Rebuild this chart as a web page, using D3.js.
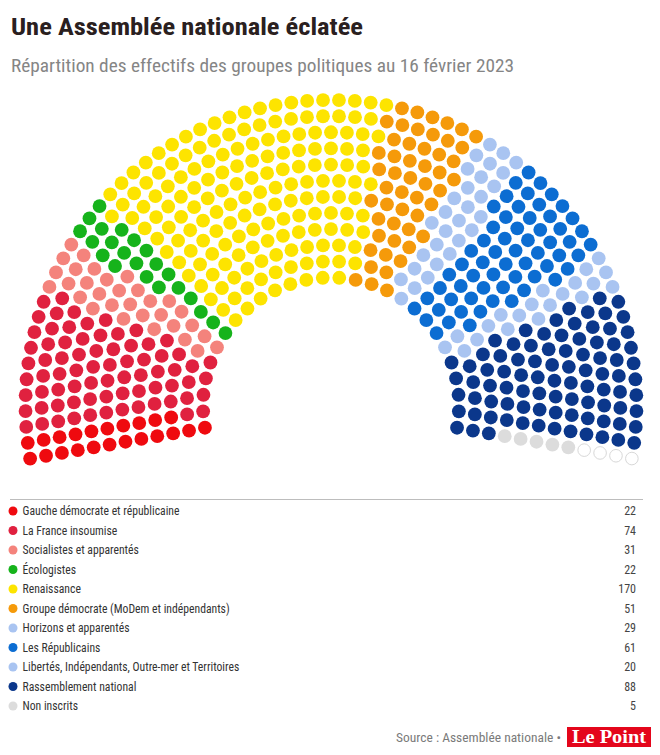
<!DOCTYPE html>
<html>
<head>
<meta charset="utf-8">
<script src="https://cdn.jsdelivr.net/npm/d3@7"></script>
<style>
  body { margin: 0; background: #fff; }
  text { font-family: "Roboto Condensed", "Liberation Sans Narrow", Roboto, sans-serif; }
</style>
</head>
<body>
<svg id="chart" width="660" height="755"></svg>
<script>
// data
const groupNames = [
  "Gauche démocrate et républicaine",
  "La France insoumise",
  "Socialistes et apparentés",
  "Écologistes",
  "Renaissance",
  "Groupe démocrate (MoDem et indépendants)",
  "Horizons et apparentés",
  "Les Républicains",
  "Libertés, Indépendants, Outre-mer et Territoires",
  "Rassemblement national",
  "Non inscrits"
];
const seatCounts = [22, 74, 31, 22, 170, 51, 29, 61, 20, 88, 5];
const groupColors = ["#ef0a0f", "#e0213f", "#f4837c", "#16b31b", "#fde400", "#f59a0a",
                     "#a9c4f1", "#0c6dd2", "#a9c4f1", "#0b378b", "#dcdcdc"];
const vacantSeats = 4;
const totalSeats = 577;

const svg = d3.select("#chart");

// header
svg.append("text").attr("x", 11).attr("y", 35)
  .attr("font-size", 23).attr("font-weight", 700).attr("fill", "#2a2020")
  .attr("textLength", 352).attr("lengthAdjust", "spacingAndGlyphs")
  .text("Une Assemblée nationale éclatée");
svg.append("text").attr("x", 11).attr("y", 72)
  .attr("font-size", 18).attr("fill", "#858585")
  .attr("textLength", 503).attr("lengthAdjust", "spacingAndGlyphs")
  .text("Répartition des effectifs des groupes politiques au 16 février 2023");

// hemicycle
const cx = 331, cy = 405.5, nRings = 12;
const ringScale = d3.scaleLinear().domain([0, nRings - 1]).range([128, 305.5]);
const radii = d3.range(nRings).map(ringScale);
const sumR = d3.sum(radii);
let perRing = radii.map(r => Math.round(totalSeats * r / sumR));
let diff = totalSeats - d3.sum(perRing);
for (let i = nRings - 1; diff !== 0; i = (i - 1 + nRings) % nRings) {
  perRing[i] += Math.sign(diff);
  diff -= Math.sign(diff);
}

let seats = [];
perRing.forEach((n, ring) => {
  const angle = d3.scaleLinear().domain([0, n - 1]).range([190, -10]);
  d3.range(n).forEach(j => seats.push({ ring: ring, r: radii[ring], a: angle(j) }));
});
seats.sort((p, q) => d3.descending(p.a, q.a) || d3.ascending(p.ring, q.ring));

const owners = [];
seatCounts.forEach((c, g) => { for (let k = 0; k < c; k++) owners.push(g); });
for (let k = 0; k < vacantSeats; k++) owners.push(-1);
seats.forEach((s, k) => { s.group = owners[k]; });

svg.append("g").selectAll("circle")
  .data(seats)
  .join("circle")
  .attr("cx", d => cx + d.r * Math.cos(d.a * Math.PI / 180))
  .attr("cy", d => cy - d.r * Math.sin(d.a * Math.PI / 180))
  .attr("r", d => d.group < 0 ? 6.3 : 6.9)
  .attr("fill", d => d.group < 0 ? "#fff" : groupColors[d.group])
  .attr("stroke", d => d.group < 0 ? "#d8d8d8" : "none")
  .attr("stroke-width", 1);

// legend
svg.append("line").attr("x1", 10).attr("x2", 643).attr("y1", 499.5).attr("y2", 499.5)
  .attr("stroke", "#bdbdbd").attr("stroke-width", 1);

const rowY = d3.scaleLinear().domain([0, 1]).range([511, 530.5]);
const rows = svg.append("g").selectAll("g")
  .data(groupNames)
  .join("g")
  .attr("transform", (d, i) => `translate(0,${rowY(i)})`);
rows.append("circle").attr("cx", 13).attr("cy", 0).attr("r", 4.5)
  .attr("fill", (d, i) => groupColors[i]);
const labels = rows.append("text").attr("x", 22.5).attr("y", 4.2)
  .attr("font-size", 12).attr("fill", "#333").text(d => d);
const squeeze = 157 / labels.node().getComputedTextLength();
labels.each(function () {
  const w = this.getComputedTextLength();
  d3.select(this).attr("textLength", w * Math.min(1, squeeze)).attr("lengthAdjust", "spacingAndGlyphs");
});
rows.append("text").attr("x", 636).attr("y", 4.2).attr("text-anchor", "end")
  .attr("font-size", 12).attr("fill", "#444").text((d, i) => seatCounts[i]);

// footer
svg.append("text").attr("x", 561).attr("y", 742).attr("text-anchor", "end")
  .attr("font-size", 13.5).attr("fill", "#7a7a7a")
  .attr("textLength", 165).attr("lengthAdjust", "spacingAndGlyphs")
  .text("Source : Assemblée nationale •");
svg.append("rect").attr("x", 567).attr("y", 727).attr("width", 84).attr("height", 20)
  .attr("fill", "#e4061b");
svg.append("text").attr("x", 609).attr("y", 743).attr("text-anchor", "middle")
  .attr("font-size", 18).attr("font-weight", 700).attr("fill", "#fff")
  .style("font-family", "'Liberation Serif', 'DejaVu Serif', serif")
  .attr("textLength", 74).attr("lengthAdjust", "spacingAndGlyphs")
  .text("Le Point");
</script>
</body>
</html>
